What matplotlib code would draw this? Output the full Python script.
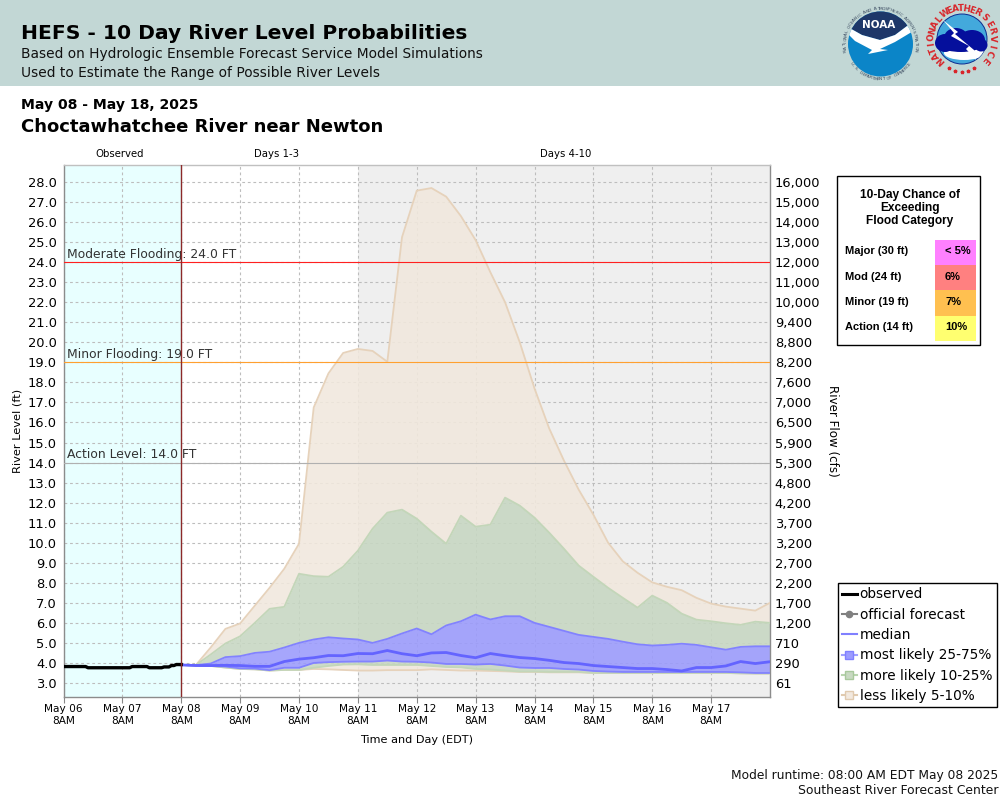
import matplotlib
matplotlib.use('Agg')
import matplotlib.pyplot as plt
import numpy as np
from matplotlib.lines import Line2D
from matplotlib.patches import Circle, Ellipse, Polygon, Rectangle

# Data
day_labels = ['May 06', 'May 07', 'May 08', 'May 09', 'May 10', 'May 11',
              'May 12', 'May 13', 'May 14', 'May 15', 'May 16', 'May 17']
level_ticks = [3, 4, 5, 6, 7, 8, 9, 10, 11, 12, 13, 14, 15, 16, 17, 18, 19, 20, 21, 22, 23, 24, 25, 26, 27, 28]
flow_labels = ['61', '290', '710', '1,200', '1,700', '2,200', '2,700', '3,200', '3,700', '4,200',
               '4,800', '5,300', '5,900', '6,500', '7,000', '7,600', '8,200', '8,800', '9,400',
               '10,000', '11,000', '12,000', '13,000', '14,000', '15,000', '16,000']

observed = [3.82, 3.82, 3.82, 3.82, 3.82, 3.82, 3.82, 3.82, 3.82, 3.82, 3.76, 3.76, 3.76, 3.76, 3.76,
            3.76, 3.76, 3.76, 3.76, 3.76, 3.76, 3.76, 3.76, 3.76, 3.76, 3.76, 3.76, 3.76, 3.82, 3.82,
            3.82, 3.82, 3.82, 3.82, 3.82, 3.76, 3.76, 3.76, 3.76, 3.76, 3.76, 3.80, 3.80, 3.80, 3.87,
            3.87, 3.92, 3.92, 3.92]

high5 = [3.9, 3.9, 4.77, 5.7, 5.97, 6.86, 7.75, 8.7, 9.95, 16.75, 18.45, 19.47, 19.67, 19.57, 19.03,
         25.25, 27.57, 27.7, 27.27, 26.3, 25.1, 23.5, 22.0, 20.0, 17.7, 15.7, 14.1, 12.65, 11.4, 10.0,
         9.07, 8.5, 8.02, 7.8, 7.63, 7.25, 6.96, 6.81, 6.71, 6.61, 7.0]
high10 = [3.9, 3.9, 4.42, 4.97, 5.33, 6.0, 6.7, 6.8, 8.45, 8.33, 8.3, 8.8, 9.6, 10.7, 11.5,
          11.65, 11.2, 10.55, 9.95, 11.35, 10.8, 10.9, 12.25, 11.85, 11.25, 10.5, 9.7, 8.86, 8.3, 7.75,
          7.25, 6.76, 7.36, 7.0, 6.46, 6.16, 6.08, 5.98, 5.9, 6.06, 6.0]
high25 = [3.9, 3.89, 3.97, 4.29, 4.34, 4.5, 4.56, 4.77, 5.0, 5.17, 5.28, 5.22, 5.17, 5.0, 5.2,
          5.47, 5.72, 5.43, 5.87, 6.08, 6.41, 6.17, 6.33, 6.33, 6.0, 5.8, 5.6, 5.4, 5.3, 5.2,
          5.06, 4.93, 4.87, 4.9, 4.96, 4.9, 4.78, 4.66, 4.8, 4.83, 4.83]
median = [3.9, 3.87, 3.87, 3.88, 3.87, 3.83, 3.83, 4.07, 4.19, 4.26, 4.37, 4.36, 4.47, 4.46, 4.62,
          4.46, 4.36, 4.5, 4.52, 4.37, 4.26, 4.47, 4.36, 4.27, 4.22, 4.13, 4.02, 3.97, 3.87, 3.82,
          3.77, 3.72, 3.72, 3.67, 3.6, 3.77, 3.77, 3.85, 4.07, 3.97, 4.06]
low25 = [3.9, 3.87, 3.85, 3.82, 3.73, 3.72, 3.64, 3.76, 3.76, 4.0, 4.04, 4.06, 4.07, 4.07, 4.12,
         4.07, 4.06, 4.02, 3.95, 3.95, 3.92, 3.95, 3.87, 3.77, 3.75, 3.75, 3.7, 3.67, 3.6, 3.57,
         3.55, 3.55, 3.55, 3.55, 3.55, 3.55, 3.55, 3.55, 3.53, 3.5, 3.5]
low10 = [3.9, 3.87, 3.85, 3.77, 3.7, 3.68, 3.62, 3.65, 3.65, 3.76, 3.85, 3.92, 3.93, 3.9, 3.9,
         3.9, 3.9, 3.85, 3.8, 3.78, 3.7, 3.67, 3.62, 3.57, 3.57, 3.55, 3.55, 3.55, 3.5, 3.5,
         3.5, 3.5, 3.5, 3.5, 3.5, 3.5, 3.5, 3.5, 3.48, 3.47, 3.47]
low5 = [3.9, 3.87, 3.85, 3.77, 3.7, 3.68, 3.62, 3.65, 3.65, 3.7, 3.68, 3.65, 3.62, 3.62, 3.64,
        3.64, 3.64, 3.68, 3.65, 3.62, 3.62, 3.6, 3.58, 3.55, 3.55, 3.53, 3.53, 3.53, 3.5, 3.5,
        3.5, 3.5, 3.5, 3.5, 3.5, 3.5, 3.5, 3.5, 3.48, 3.47, 3.47]

flood_levels = [24, 19, 14]
flood_names = ['Moderate Flooding: 24.0 FT', 'Minor Flooding: 19.0 FT', 'Action Level: 14.0 FT']
flood_colors = ['#ff2020', '#ffa030', '#b0b0b0']

table_rows = ['Major (30 ft)', 'Mod (24 ft)', 'Minor (19 ft)', 'Action (14 ft)']
table_values = ['< 5%', '6%', '7%', '10%']
table_colors = ['#ff80ff', '#ff8080', '#ffc050', '#ffff70']

TAN, GREEN, BLUE = '#f1e8dd', '#c7d7c2', '#9a9afc'

fig = plt.figure(figsize=(10, 8), dpi=100)

# overlay in pixel coordinates for the page furniture
page = fig.add_axes([0, 0, 1, 1], zorder=0)
page.set_xlim(0, 1000)
page.set_ylim(800, 0)
page.axis('off')
page.add_patch(Rectangle((0, 0), 1000, 86, color='#c2d7d5', lw=0))

page.text(21, 33.5, 'HEFS - 10 Day River Level Probabilities', fontsize=14.6, fontweight='bold', va='center')
page.text(21, 54, 'Based on Hydrologic Ensemble Forecast Service Model Simulations', fontsize=9.95, va='center', color='#111111')
page.text(21, 73, 'Used to Estimate the Range of Possible River Levels', fontsize=9.95, va='center', color='#111111')
page.text(21, 105, 'May 08 - May 18, 2025', fontsize=10.1, fontweight='bold', va='center')
page.text(21, 126.5, 'Choctawhatchee River near Newton', fontsize=13, fontweight='bold', va='center')

page.text(120, 154, 'Observed', fontsize=7.3, ha='center', va='center')
page.text(276, 154, 'Days 1-3', fontsize=7.3, ha='center', va='center')
page.text(566, 154, 'Days 4-10', fontsize=7.3, ha='center', va='center')
page.text(18, 431, 'River Level (ft)', fontsize=8.2, rotation=90, ha='center', va='center')
page.text(832, 431, 'River Flow (cfs)', fontsize=8.6, rotation=-90, ha='center', va='center')
page.text(417, 740, 'Time and Day (EDT)', fontsize=8.1, ha='center', va='center')
page.text(998, 775, 'Model runtime: 08:00 AM EDT May 08 2025', fontsize=8.8, ha='right', va='center', color='#111111')
page.text(998, 791, 'Southeast River Forecast Center', fontsize=8.9, ha='right', va='center', color='#111111')


def ring_text(s, cx, cy, r, start, end, bottom=False, **kw):
    # one letter at a time round a circle, angles clockwise from the top
    for ch, a in zip(s, np.linspace(start, end, len(s))):
        t = np.radians(a)
        rot = 180 - a if bottom else -a
        page.text(cx + r * np.sin(t), cy - r * np.cos(t), ch, rotation=rot,
                  ha='center', va='center', rotation_mode='anchor', **kw)


# NOAA logo
noaa = Circle((880.5, 44), 32.5, color='#0b85c8', lw=0)
page.add_patch(noaa)
for pts, col in [([(846, 0), (915, 0), (915, 20), (895, 35), (880, 40), (862, 35), (846, 26)], '#1d3769'),
                 ([(846, 26), (862, 35), (880, 40), (895, 35), (915, 20), (915, 30), (895, 42), (880, 49),
                   (888, 50), (868, 54), (872, 50), (855, 41), (846, 32)], 'white')]:
    p = Polygon(pts, color=col, lw=0)
    page.add_patch(p)
    p.set_clip_path(noaa)
page.text(879, 25, 'NOAA', color='white', fontsize=7.5, fontweight='bold', ha='center', va='center')
ring_text('NATIONAL OCEANIC AND ATMOSPHERIC ADMINISTRATION', 880.5, 44, 35.2, -100, 100,
          fontsize=3.2, color='#3a4a60')
ring_text('U.S. DEPARTMENT OF COMMERCE', 880.5, 44, 35.2, 235, 125, bottom=True, fontsize=3.2, color='#3a4a60')

# NWS logo
nws = Circle((962, 39), 25, facecolor='#43a9dc', edgecolor='#0b2a90', lw=0.7)
page.add_patch(nws)
for ex, ey, ew, eh, col in [(964, 53, 40, 14, 'white'), (945, 43, 20, 18, '#050f9c'), (956, 38, 24, 20, '#050f9c'),
                            (972, 40, 26, 20, '#050f9c'), (981, 45, 13, 13, '#050f9c'), (961, 47, 36, 10, '#050f9c')]:
    e = Ellipse((ex, ey), ew, eh, color=col, lw=0)
    page.add_patch(e)
    if col == 'white':
        e.set_clip_path(nws)
page.add_patch(Polygon([(943, 20), (958, 32), (955, 34), (974, 50), (976, 60), (966, 49),
                        (969, 46), (951, 36), (954, 33)], color='white', lw=0))
ring_text('NATIONAL', 962, 39, 30.5, -135, -50, fontsize=6.3, fontweight='bold', color='#d8252a')
ring_text('WEATHER', 962, 39, 30.5, -34, 30, fontsize=6.3, fontweight='bold', color='#d8252a')
ring_text('SERVICE', 962, 39, 30.5, 46, 132, fontsize=6.3, fontweight='bold', color='#d8252a')
page.plot([949, 955, 962, 968, 974], [68, 71, 72, 71, 68], ls='none', marker='*', ms=2.5, color='#d8252a')

# flood category table
page.add_patch(Rectangle((836.7, 176), 143.3, 169, facecolor='white', edgecolor='black', lw=1))
table_font = ['Liberation Sans', 'DejaVu Sans']
for i, s in enumerate(['10-Day Chance of', 'Exceeding', 'Flood Category']):
    page.text(910, 195 + i * 13, s, fontsize=8.6, fontweight='bold', ha='center', va='center', family=table_font)
for i in range(4):
    y0 = 240 + i * 25.2
    page.add_patch(Rectangle((935, y0), 41, 25.2, color=table_colors[i], lw=0))
    page.text(845, y0 + 11.5, table_rows[i], fontsize=8.05, fontweight='bold', va='center', family=table_font)
    page.text(945, y0 + 11.5, table_values[i], fontsize=8.05, fontweight='bold', va='center', family=table_font)

# main chart
ax = fig.add_axes([0.0635, 103 / 800, 0.7065, 532 / 800], zorder=1)
ax.patch.set_alpha(0)
ax.axvspan(0, 2, color='#e8ffff', lw=0, zorder=0)
ax.axvspan(5, 12, color='#efefef', lw=0, zorder=0)

obs_days = np.arange(len(observed)) / 24
fc_days = 2 + np.arange(len(median)) * 0.25

# bands, each one only between its own two edges
bands = [(high10, high5, TAN), (low5, low10, TAN), (high25, high10, GREEN), (low10, low25, GREEN), (low25, high25, BLUE)]
for lower, upper, col in bands:
    ax.fill_between(fc_days, lower, upper, color=col, alpha=0.88, lw=0, zorder=2)
for edge, col in [(high5, '#e6d2bb'), (low5, '#e6d2bb'), (high10, '#c3d6b9'), (low10, '#c3d6b9'),
                  (high25, '#8282ff'), (low25, '#8282ff')]:
    ax.plot(fc_days, edge, color=col, lw=1.3, zorder=3)
ax.plot(fc_days, median, color='#6464ff', lw=2, zorder=4)
ax.plot(obs_days, observed, color='black', lw=2.4, zorder=5)

for lev, name, col in zip(flood_levels, flood_names, flood_colors):
    ax.axhline(lev, color=col, lw=0.8, zorder=3.5)
    ax.text(0.055, lev + 0.08, name, fontsize=8.95, color='#333333', va='bottom', zorder=6)
ax.axvline(2, color='#8c2a2a', lw=1, zorder=6)

ax.set_xlim(0, 12)
ax.set_ylim(2.3, 28.85)
ax.set_xticks(np.arange(12))
ax.set_xticklabels([d + '\n8AM' for d in day_labels], fontsize=7.6, linespacing=1.3)
ax.set_yticks(level_ticks)
ax.set_yticklabels(['%.1f' % v for v in level_ticks], fontsize=9.4)
ax.grid(True, color='#bdbdbd', ls=(0, (2.5, 2.5)), lw=0.8, zorder=1)
ax.set_axisbelow(True)
ax.tick_params(axis='y', length=0, pad=5)
ax.tick_params(axis='x', length=4, color='#888888', pad=1)
for s in ax.spines.values():
    s.set_color('#8c8c8c')
    s.set_linewidth(1)
ax.spines['top'].set_color('#c0c0c0')

ax2 = ax.twinx()
ax2.set_ylim(ax.get_ylim())
ax2.set_yticks(level_ticks)
ax2.set_yticklabels(flow_labels, fontsize=9.4)
ax2.tick_params(axis='y', length=0, pad=3.5)
for s in ax2.spines.values():
    s.set_visible(False)

handles = [
    Line2D([], [], color='black', lw=2.2),
    Line2D([], [], color='#808080', lw=1.5, marker='o', ms=4.5),
    Line2D([], [], color='#8080ff', lw=1.5),
    Line2D([], [], color='#a0a0ff', lw=1.5, marker='s', ms=5.5, mfc='#9c9cff', mec='#8080ff'),
    Line2D([], [], color='#b8d4ae', lw=1.5, marker='s', ms=5.5, mfc='#c8d9c2', mec='#a8c89c'),
    Line2D([], [], color='#e0caaf', lw=1.5, marker='s', ms=5.5, mfc='#f2e9df', mec='#e0caaf'),
]
labels = ['observed', 'official forecast', 'median', 'most likely 25-75%', 'more likely 10-25%', 'less likely 5-10%']
leg = fig.legend(handles, labels, loc='upper left', bbox_to_anchor=(0.8375, 1 - 583 / 800), fontsize=9.8,
                 frameon=True, fancybox=False, framealpha=1, edgecolor='black', borderpad=0.33,
                 labelspacing=0.46, handlelength=1.1, handletextpad=0.2, borderaxespad=0)
leg.get_frame().set_linewidth(1)

fig.savefig('out.png', dpi=100)
